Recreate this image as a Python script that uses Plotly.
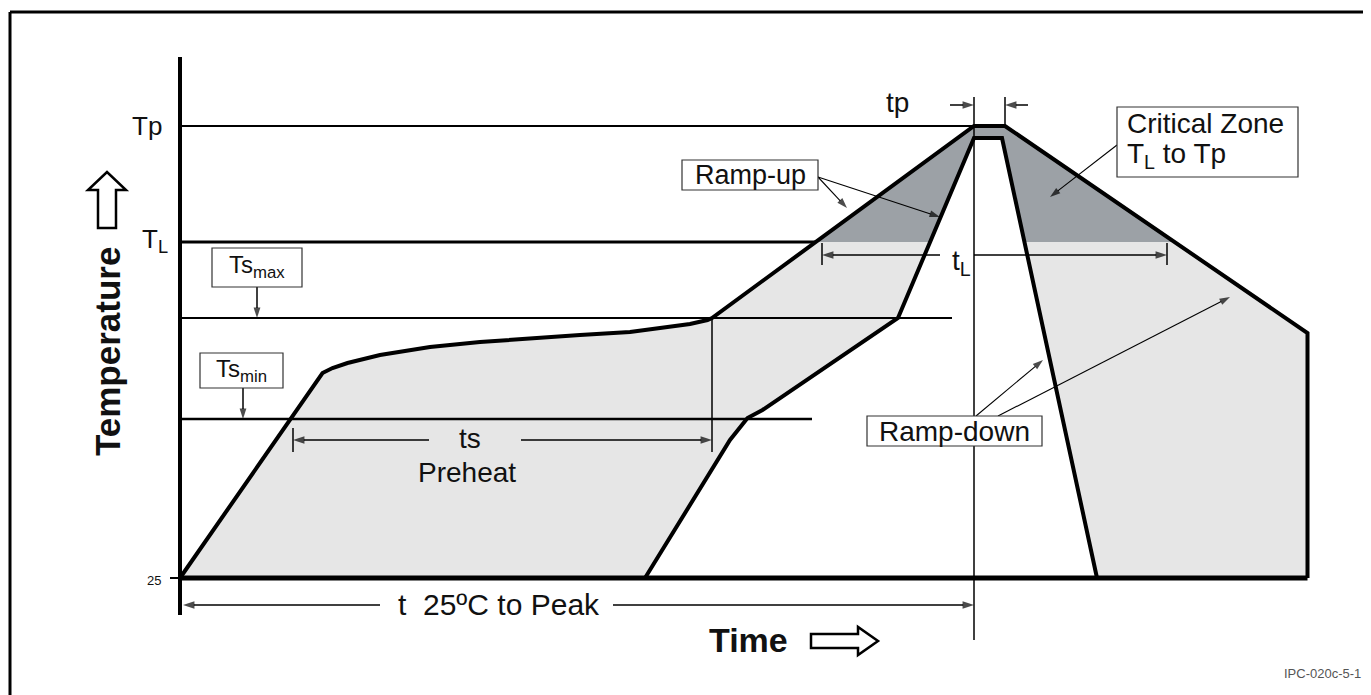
import numpy as np
import plotly.graph_objects as go

# ---------------- data (schematic reflow profile) ----------------
# temperature levels (schematic units)
T_AMB = 25
T_P = 251
T_L = 193
TS_MAX = 155
TS_MIN = 104.5

# outer (maximum) profile: time / temperature
upper_t = [0, 57, 61, 67, 80, 100, 120, 140, 160, 180, 193, 204, 211, 212.8, 317.6, 330, 451, 451]
upper_T = [25, 127.5, 130, 132.5, 136.5, 140.5, 143, 145, 146.5, 148, 150, 152, 154, 155, 251, 251, 147.5, 25]

# inner (minimum) profile: time / temperature
lower_t = [186, 220, 227, 233, 287.2, 317.6, 328.8, 366.8]
lower_T = [25, 94, 105, 109, 155, 245, 245, 25]

# time markers
TS_START, TS_END = 45.2, 212.8      # ts (preheat) span
TL_START, TL_END = 256.8, 394.8     # tL span
TP_START, TP_END = 317.6, 330       # tp span
T_END = 451                          # end of chart profile

# ---------------- helpers ----------------
FONT = "Liberation Sans, Arial, sans-serif"
LIGHT = "#e6e6e6"
DARK = "#9ca1a6"
W, H = 1363, 687   # page has an 8px body margin


def clip_above(xs, ys, level):
    pts = []
    n = len(xs)
    for i in range(n):
        x1, y1 = xs[i], ys[i]
        x2, y2 = xs[(i + 1) % n], ys[(i + 1) % n]
        in1, in2 = y1 >= level, y2 >= level
        if in1:
            pts.append((x1, y1))
        if in1 != in2:
            f = (level - y1) / (y2 - y1)
            pts.append((x1 + f * (x2 - x1), level))
    return [p[0] for p in pts], [p[1] for p in pts]


poly_t = upper_t + lower_t[::-1]
poly_T = upper_T + lower_T[::-1]
dark_t, dark_T = clip_above(poly_t, poly_T, T_L)

# where the TL line meets the ramp-up of the outer profile
tl_line_end = float(np.interp(T_L, upper_T[13:15], upper_t[13:15]))

fig = go.Figure()

# fills
fig.add_trace(go.Scatter(x=poly_t + [poly_t[0]], y=poly_T + [poly_T[0]], mode="lines",
                         fill="toself", fillcolor=LIGHT, line=dict(width=0), hoverinfo="skip"))
fig.add_trace(go.Scatter(x=dark_t + [dark_t[0]], y=dark_T + [dark_T[0]], mode="lines",
                         fill="toself", fillcolor=DARK, line=dict(width=0), hoverinfo="skip"))


def seg(xs, ys, w, color="black"):
    fig.add_trace(go.Scatter(x=xs, y=ys, mode="lines",
                             line=dict(color=color, width=w), hoverinfo="skip"))


# reference temperature lines
seg([0, TP_START], [T_P, T_P], 2)
seg([0, tl_line_end], [T_L, T_L], 3)
seg([0, 308.8], [TS_MAX, TS_MAX], 2)
seg([0, 252.8], [TS_MIN, TS_MIN], 2.5)

# vertical guide lines and ticks
seg([TS_END, TS_END], [TS_MAX, 88], 1.5)
seg([TP_START, TP_START], [265.5, -6], 1.5)
seg([TP_END, TP_END], [265.5, T_P], 1.5)
seg([TL_START, TL_START], [192.5, 181.5], 1.5)
seg([TL_END, TL_END], [192.5, 181.5], 1.5)
seg([TS_START, TS_START], [100, 88], 1.5)

# profiles
seg(upper_t, upper_T, 4)
seg(lower_t, lower_T, 4)
# baseline and temperature axis
seg([0, T_END], [T_AMB, T_AMB], 5)
seg([-4, 0], [T_AMB, T_AMB], 2)
seg([0, 0], [285.5, 6.5], 4)


def arrow(hx, hy, tx, ty, w=1.5, size=12):
    fig.add_trace(go.Scatter(x=[tx, hx], y=[ty, hy], mode="lines+markers",
                             line=dict(color="black", width=w),
                             marker=dict(symbol="arrow", size=[0, size], angleref="previous",
                                         color="black", line=dict(width=0)),
                             hoverinfo="skip"))


ann = []


def label(x, y, text, size=28, xanchor="center", yanchor="middle", bold=False, color="#111",
          angle=0):
    ann.append(dict(x=x, y=y, xref="x", yref="y", text=f"<b>{text}</b>" if bold else text,
                    showarrow=False, xanchor=xanchor, yanchor=yanchor, textangle=angle,
                    font=dict(family=FONT, size=size, color=color)))


# dimension arrows
arrow(TS_START, 94, 99.6, 94)
arrow(TS_END, 94, 136.4, 94)
label(116, 95, "ts", 28)
label(114.8, 78, "Preheat", 28)

arrow(TL_START, 186.5, 304, 186.5)
arrow(TL_END, 186.5, TP_START, 186.5)
label(312.4, 183, "t<sub>L</sub>", 28)

arrow(TP_START, 261.5, 308, 261.5)
arrow(TP_END, 261.5, 339.2, 261.5)
label(286.8, 263, "tp", 28)

arrow(1.2, 11.5, 80, 11.5)
arrow(TP_START, 11.5, 173.2, 11.5)
label(127.6, 12, "t  25ºC to Peak", 30)

# left labels
label(-6.4, 251, "Tp", 26, xanchor="right")
label(-4, 194, "T<sub>L</sub>", 26, xanchor="right")
label(-6.8, 24, "25", 13, xanchor="right")

# boxed labels
shapes = []


def box(x0, y0, x1, y1):
    shapes.append(dict(type="rect", xref="x", yref="y", x0=x0, y0=y0, x1=x1, y1=y1,
                       line=dict(color="#333", width=1.2), fillcolor="white", layer="above"))


box(12.8, 190, 48.8, 170.5)
label(30.8, 181, "Ts<sub>max</sub>", 24)
arrow(30.8, TS_MAX, 30.8, 170.5, size=11)

box(8, 137.5, 41.2, 120)
label(24.6, 129, "Ts<sub>min</sub>", 24)
arrow(25.2, TS_MIN, 25.2, 120, size=11)

box(200.8, 234, 255.2, 219)
label(228, 226.5, "Ramp-up", 27)
arrow(266.8, 210, 255.2, 225.5, w=1.1, size=11)
arrow(304, 205.5, 255.2, 225.5, w=1.1, size=11)

box(374.8, 260.5, 447.2, 225.5)
label(378, 252.5, "Critical Zone", 28, xanchor="left")
label(378, 236.5, "T<sub>L</sub> to Tp", 28, xanchor="left")
arrow(348, 215.5, 374.8, 241.5, w=1.1, size=11)

box(274.8, 106, 344.8, 91)
label(309.8, 98.5, "Ramp-down", 28)
arrow(345.2, 134, 318.4, 106, w=1.1, size=11)
arrow(420, 165.5, 327.2, 106, w=1.1, size=11)

# axis titles
label(-29.2, 138, "Temperature", 35, bold=True, angle=-90)
label(227.4, -6, "Time", 34, bold=True)
label(473.2, -22.5, "IPC-020c-5-1", 13, xanchor="right", color="#555")

# hollow arrows
shapes.append(dict(type="path", xref="x", yref="y",
                   path="M -32.8,200 L -32.8,219 L -36.8,219 L -29.2,228 L -21.6,219 L -25.6,219 L -25.6,200 Z",
                   line=dict(color="black", width=2.5), fillcolor="white"))
shapes.append(dict(type="path", xref="x", yref="y",
                   path="M 252.4,-3 L 271.2,-3 L 271.2,0.5 L 279.2,-6.5 L 271.2,-13.5 L 271.2,-10 L 252.4,-10 Z",
                   line=dict(color="black", width=2.5), fillcolor="white"))

# frame (left and top edges)
shapes.append(dict(type="line", xref="paper", yref="paper", x0=2 / W, x1=2 / W,
                   y0=0, y1=1 - 4 / H, line=dict(color="black", width=3)))
shapes.append(dict(type="line", xref="paper", yref="paper", x0=2 / W, x1=1,
                   y0=1 - 4 / H, y1=1 - 4 / H, line=dict(color="black", width=3)))

fig.update_layout(
    width=W, height=H,
    margin=dict(l=0, r=0, t=0, b=0),
    paper_bgcolor="white", plot_bgcolor="white",
    showlegend=False,
    xaxis=dict(range=[-68.8, 476.4], visible=False, fixedrange=True),
    yaxis=dict(range=[-33.5, 310], visible=False, fixedrange=True),
    annotations=ann,
    shapes=shapes,
)

fig.write_html("out.html")
